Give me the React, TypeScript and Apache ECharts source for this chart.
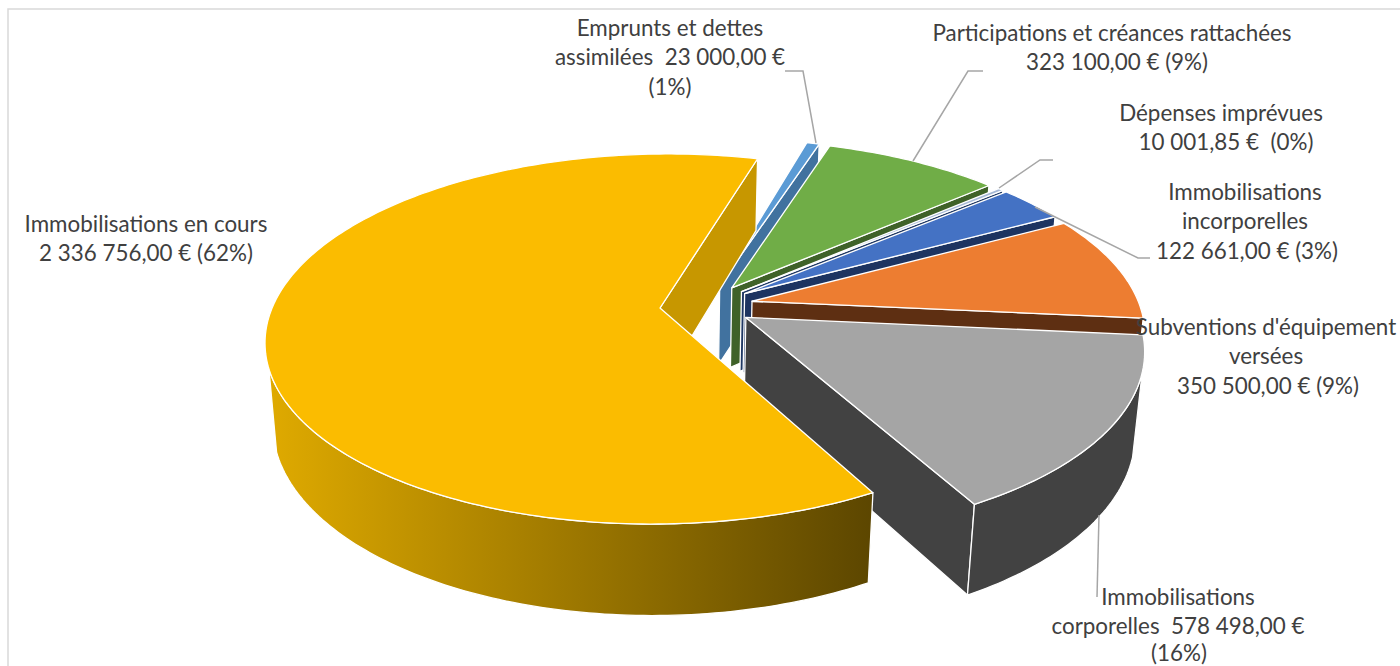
import React, { useEffect, useRef } from "react";
import * as echarts from "echarts";

const sliceNames = [
  "Emprunts et dettes assimilées",
  "Participations et créances rattachées",
  "Dépenses imprévues",
  "Immobilisations incorporelles",
  "Subventions d'équipement versées",
  "Immobilisations corporelles",
  "Immobilisations en cours",
];
const sliceValues = [23000, 323100, 10001.85, 122661, 350500, 578498, 2336756];
const topColors = ["#5B9BD5", "#70AD47", "#A5B8D6", "#4472C4", "#ED7D31", "#A5A5A5", "#FBBC00"];
const wallColors = ["#41729F", "#3F6229", "#1F3864", "#1D3461", "#5E2F12", "#424242", "#C79700"];

const labelLines = [
  ["Emprunts et dettes", "assimilées  23 000,00 €", "(1%)"],
  ["Participations et créances rattachées", "323 100,00 € (9%)"],
  ["Dépenses imprévues", "10 001,85 €  (0%)"],
  ["Immobilisations", "incorporelles", "122 661,00 € (3%)"],
  ["Subventions d'équipement", "versées", "350 500,00 € (9%)"],
  ["Immobilisations", "corporelles  578 498,00 €", "(16%)"],
  ["Immobilisations en cours", "2 336 756,00 € (62%)"],
];
const labelCentres = [
  [670, 670, 670],
  [1112, 1117],
  [1221, 1226],
  [1245, 1245, 1247],
  [1266, 1266, 1268],
  [1178, 1178, 1179],
  [146, 146],
];
const labelYs = [
  [27, 56.5, 86],
  [32, 61.5],
  [112, 141.5],
  [191, 220.5, 250],
  [326, 355.5, 385],
  [596, 625.5, 652.5],
  [223, 252.5],
];
const leaderLines = [
  [[785, 71], [803, 71], [816, 143]],
  [[983, 71], [968, 71], [913, 161]],
  [[1053, 160], [1040, 160], [999, 188]],
  [[1150, 258], [1138, 258], [1035, 207]],
  null,
  [[1097, 597], [1099, 515]],
  null,
];

const START_ANGLE = 16.9;
const EXPLODE = 0.12;
const CX = 660, CY = 308, RX = 389.4, RY = 179.8, PERSP = 0.1676, DEPTH_W = 0.019, DEPTH_H = 82;
const TILT = 0.01;
const WALL_FROM = 108, WALL_TO = 252.5;
const SMALL_SLICE_RADIUS = 0.993;
const FONT = "Lato";
const FONT_SIZE = 22.4;

const total = sliceValues.reduce((a, b) => a + b, 0);
const ranges: [number, number][] = [];
{
  let a = START_ANGLE;
  for (const v of sliceValues) {
    const b = a + (v / total) * 360;
    ranges.push([a, b]);
    a = b;
  }
}
const dir = (deg: number) => {
  const r = (deg * Math.PI) / 180;
  return [Math.sin(r), -Math.cos(r)];
};
const lastIndex = sliceValues.length - 1;
const lastRange = ranges[lastIndex];
const lastDir = dir((lastRange[0] + lastRange[1]) / 2);
const centre = [-EXPLODE * lastDir[0], -EXPLODE * lastDir[1]];

const project = (u: number, v: number, h: number) => {
  const w = 1 - PERSP * v + DEPTH_W * h;
  const dx = (RX * u) / w;
  return [CX + dx, CY + (RY * v + DEPTH_H * h) / w - TILT * dx];
};

function renderSlice(params: any, api: any) {
  const i = params.dataIndex;
  const value = api.value(0);
  const a = ranges[i][0];
  const b = a + (value / total) * 360;
  const d = dir((a + b) / 2);
  const ox = centre[0] + EXPLODE * d[0];
  const oy = centre[1] + EXPLODE * d[1];
  const radius = i === lastIndex ? 1 : SMALL_SLICE_RADIUS;
  const rim = (t: number, h: number) => {
    const q = dir(t);
    return project(ox + radius * q[0], oy + radius * q[1], h);
  };
  const children: any[] = [];
  const outline = { stroke: "#FFFFFF", lineWidth: 1.3, lineJoin: "round" };

  // end face
  children.push({
    type: "polygon",
    shape: { points: [project(ox, oy, 0), rim(b, 0), rim(b, 1), project(ox, oy, 1)] },
    style: { fill: wallColors[i], ...outline },
  });

  // outer wall
  const fa = Math.max(a, WALL_FROM);
  const fb = Math.min(b, WALL_TO);
  if (fb > fa) {
    const pts: number[][] = [];
    const steps = Math.ceil(fb - fa);
    for (let k = 0; k <= steps; k++) pts.push(rim(fa + ((fb - fa) * k) / steps, 0));
    for (let k = steps; k >= 0; k--) pts.push(rim(fa + ((fb - fa) * k) / steps, 1));
    children.push({
      type: "polygon",
      shape: { points: pts },
      style: {
        fill:
          i === lastIndex
            ? {
                type: "linear",
                x: 0,
                y: 0,
                x2: 1,
                y2: 0,
                colorStops: [
                  { offset: 0, color: "#DFAA00" },
                  { offset: 1, color: "#5C4600" },
                ],
              }
            : wallColors[i],
        ...outline,
      },
    });
  }

  // top face
  const top: number[][] = [project(ox, oy, 0)];
  const steps = Math.max(2, Math.ceil(b - a));
  for (let k = 0; k <= steps; k++) top.push(rim(a + ((b - a) * k) / steps, 0));
  children.push({
    type: "polygon",
    shape: { points: top },
    style: { fill: topColors[i], ...outline },
  });

  return { type: "group", children };
}

export default function App() {
  const ref = useRef<HTMLDivElement>(null);
  useEffect(() => {
    const chart = echarts.init(ref.current!, undefined, { renderer: "svg" });
    const graphics: any[] = [
      {
        type: "polyline",
        shape: { points: [[8, 666], [8, 9], [1400, 9]] },
        style: { stroke: "#D9D9D9", lineWidth: 1.5, fill: "none" },
        z: 1,
      },
    ];
    leaderLines.forEach((pts) => {
      if (pts)
        graphics.push({
          type: "polyline",
          shape: { points: pts },
          style: { stroke: "#A6A6A6", lineWidth: 1.5, fill: "none" },
          z: 20,
        });
    });
    labelLines.forEach((lines, i) => {
      lines.forEach((text, k) => {
        graphics.push({
          type: "text",
          z: 30,
          style: {
            text,
            x: labelCentres[i][k],
            y: labelYs[i][k],
            align: "center",
            verticalAlign: "middle",
            fill: "#404040",
            fontFamily: FONT,
            fontSize: FONT_SIZE,
            lineHeight: 22,
          },
        });
      });
    });
    chart.setOption({
      animation: false,
      backgroundColor: "#FFFFFF",
      graphic: graphics,
      series: [
        {
          type: "custom",
          coordinateSystem: "none",
          name: "Dépenses",
          renderItem: renderSlice,
          data: sliceValues.map((v, i) => ({ name: sliceNames[i], value: [v] })),
          silent: true,
          z: 5,
        },
      ],
    });
    return () => chart.dispose();
  }, []);
  return <div ref={ref} style={{ position: "fixed", left: 0, top: 0, width: 1400, height: 666 }} />;
}
